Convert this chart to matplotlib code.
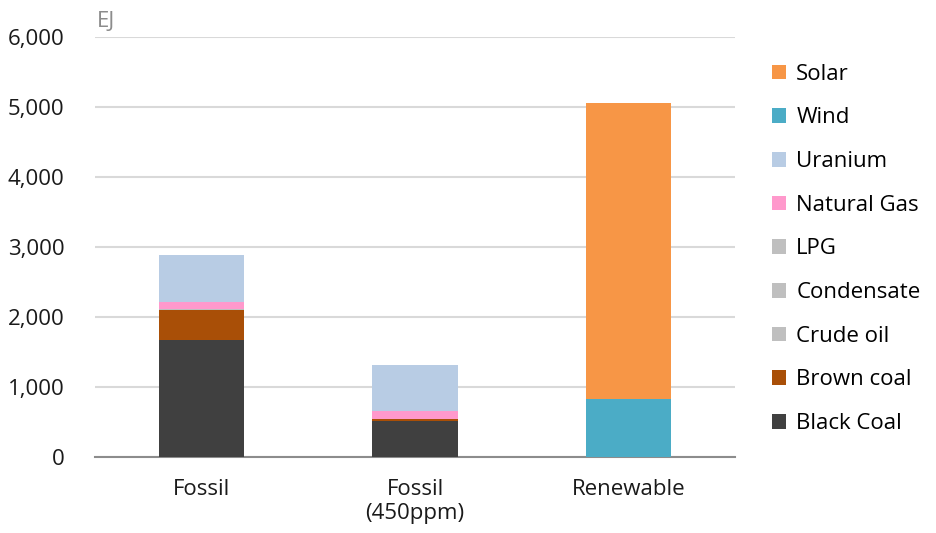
import matplotlib.pyplot as plt
import numpy as np
from matplotlib.patches import Patch

plt.rcParams['font.family'] = ['Open Sans', 'DejaVu Sans']

# data (EJ)
scenarios = ["Fossil", "Fossil\n(450ppm)", "Renewable"]
sources = ["Black Coal", "Brown coal", "Crude oil", "Condensate", "LPG",
           "Natural Gas", "Uranium", "Wind", "Solar"]
black_coal = [1670, 520, 0]
brown_coal = [430, 20, 0]
crude_oil = [10, 5, 0]
condensate = [5, 0, 0]
lpg = [5, 0, 0]
natural_gas = [100, 110, 0]
uranium = [660, 660, 0]
wind = [0, 0, 830]
solar = [0, 0, 4230]

colors = ["#404040", "#A94F07", "#BFBFBF", "#BFBFBF", "#BFBFBF",
          "#FF99CC", "#B8CCE4", "#4BACC6", "#F79646"]
series = [black_coal, brown_coal, crude_oil, condensate, lpg,
          natural_gas, uranium, wind, solar]

fig = plt.figure(figsize=(9.36, 5.33), dpi=100)
ax = fig.add_axes([0.1015, 0.1426, 0.6838, 0.788])

x = np.arange(len(scenarios))
bottom = np.zeros(len(scenarios))
for vals, col in zip(series, colors):
    ax.bar(x, vals, width=0.4, bottom=bottom, color=col, zorder=3)
    bottom += np.array(vals)

ax.set_xlim(-0.5, 2.5)
ax.set_ylim(0, 6000)
ax.set_yticks(range(0, 6001, 1000))
ax.set_yticklabels([f"{v:,}" for v in range(0, 6001, 1000)])
ax.set_xticks(x)
ax.set_xticklabels(scenarios)
ax.tick_params(axis='both', length=0, labelsize=16, colors='#1a1a1a')
ax.tick_params(axis='y', pad=22)
ax.tick_params(axis='x', pad=16)
ax.grid(axis='y', color='#D9D9D9', linewidth=1.5, zorder=0)
for s in ['top', 'right', 'left']:
    ax.spines[s].set_visible(False)
ax.spines['bottom'].set_color('#8C8C8C')
ax.spines['bottom'].set_linewidth(1.5)

fig.text(0.103, 0.94, "EJ", fontsize=16, color='#8C8C8C', va='bottom')

handles = [Patch(facecolor=c, label=l) for c, l in zip(colors, sources)][::-1]
fig.legend(handles=handles, loc='center left', bbox_to_anchor=(0.815, 0.533),
           frameon=False, fontsize=16, handlelength=0.65, handleheight=0.65,
           handletextpad=0.45, labelspacing=1.02, borderaxespad=0)

fig.savefig("out.png", dpi=100)
